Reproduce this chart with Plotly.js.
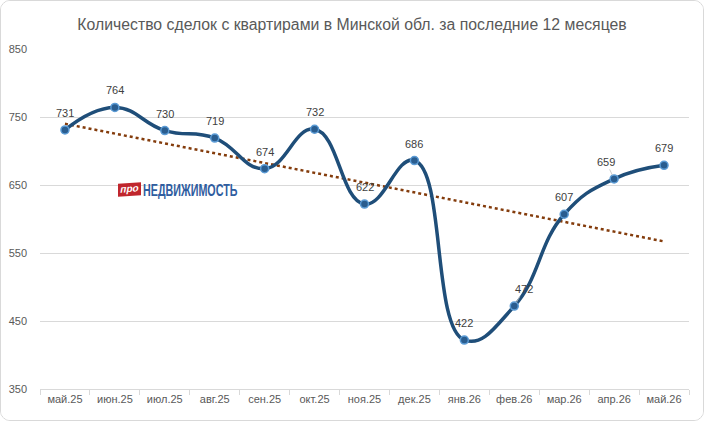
<!DOCTYPE html>
<html>
<head>
<meta charset="utf-8">
<script src="https://cdn.plot.ly/plotly-3.0.1.min.js"></script>
<style>
html,body{margin:0;padding:0;background:#fff;}
#wrap{position:relative;box-sizing:border-box;width:704px;height:421px;border:1px solid #d9d9d9;border-radius:10px;overflow:hidden;}
#chart{width:702px;height:419px;}
#logo{position:absolute;left:117px;top:179px;height:20px;white-space:nowrap;pointer-events:none;}
#logo .pro{position:absolute;left:0;top:3px;width:23px;height:13px;background:#C0262D;color:#fff;
  font:italic bold 10px "Liberation Sans",Arial,sans-serif;line-height:12px;text-align:center;transform:skewY(-4deg);}
#logo .name{position:absolute;left:25px;top:0;font:bold 16.5px "Liberation Sans",Arial,sans-serif;line-height:20px;
  color:#2F5DA0;transform:scaleX(0.65);transform-origin:left center;letter-spacing:0px;}
</style>
</head>
<body>
<div id="wrap"><div id="chart"></div>
<div id="logo"><span class="pro">про</span><span class="name">НЕДВИЖИМОСТЬ</span></div>
</div>
<script>
const months = ["май.25","июн.25","июл.25","авг.25","сен.25","окт.25","ноя.25","дек.25","янв.26","фев.26","мар.26","апр.26","май.26"];
const deals = [731,764,730,719,674,732,622,686,422,472,607,659,679];
const trendMonths = ["май.25","май.26"];
const trendValues = [740,567];
const yTicks = [350,450,550,650,750,850];
const titleText = "Количество сделок с квартирами в Минской обл. за последние 12 месяцев";

const labelFont = {family: "Liberation Sans, Arial, sans-serif", size: 11, color: "#404040"};
const leader = {"фев.26": [10, -17], "апр.26": [-8, -17]};

const labelAnnotations = months.map((m, i) => {
  if (leader[m]) {
    return {x: m, y: deals[i], xref: "x", yref: "y", text: String(deals[i]), font: labelFont,
            showarrow: true, arrowhead: 0, arrowwidth: 0.8, arrowcolor: "#bfbfbf",
            ax: leader[m][0], ay: leader[m][1], standoff: 4};
  }
  return {x: m, y: deals[i], xref: "x", yref: "y", text: String(deals[i]), font: labelFont,
          showarrow: false, yshift: 17};
});

const traces = [
  {
    x: trendMonths, y: trendValues, type: "scatter", mode: "lines",
    line: {color: "#843C0C", width: 2.5, dash: "dot"},
    hoverinfo: "skip", showlegend: false
  },
  {
    x: months, y: deals, type: "scatter", mode: "lines+markers",
    line: {color: "#1F4E79", width: 3.5, shape: "spline", smoothing: 1.3},
    marker: {size: 8, color: "#2A5D8F", line: {color: "#5B9BD5", width: 1.5}},
    cliponaxis: false, showlegend: false
  }
];

const layout = {
  width: 702, height: 419,
  margin: {l: 39, r: 14, t: 48, b: 31},
  paper_bgcolor: "#ffffff", plot_bgcolor: "#ffffff",
  title: {text: titleText, x: 0.5, xanchor: "center", y: 0.943, yanchor: "middle",
          font: {family: "Liberation Sans, Arial, sans-serif", size: 15.8, color: "#595959"}},
  xaxis: {
    type: "category", categoryorder: "array", categoryarray: months,
    tickson: "boundaries", ticks: "outside", ticklen: 5, tickcolor: "#d9d9d9",
    showline: true, linecolor: "#d9d9d9", linewidth: 1,
    showgrid: false, zeroline: false,
    tickfont: {family: "Liberation Sans, Arial, sans-serif", size: 11, color: "#595959"},
    range: [-0.5, 12.5], fixedrange: true
  },
  yaxis: {
    range: [350, 850], tickvals: yTicks, ticktext: yTicks.map(String),
    showgrid: true, gridcolor: "#d9d9d9", gridwidth: 1,
    showline: false, zeroline: false, ticks: "",
    tickfont: {family: "Liberation Sans, Arial, sans-serif", size: 11, color: "#595959"},
    ticklabelstandoff: 12, fixedrange: true
  },
  annotations: labelAnnotations
};

Plotly.newPlot("chart", traces, layout, {displayModeBar: false, staticPlot: true});
</script>
</body>
</html>
